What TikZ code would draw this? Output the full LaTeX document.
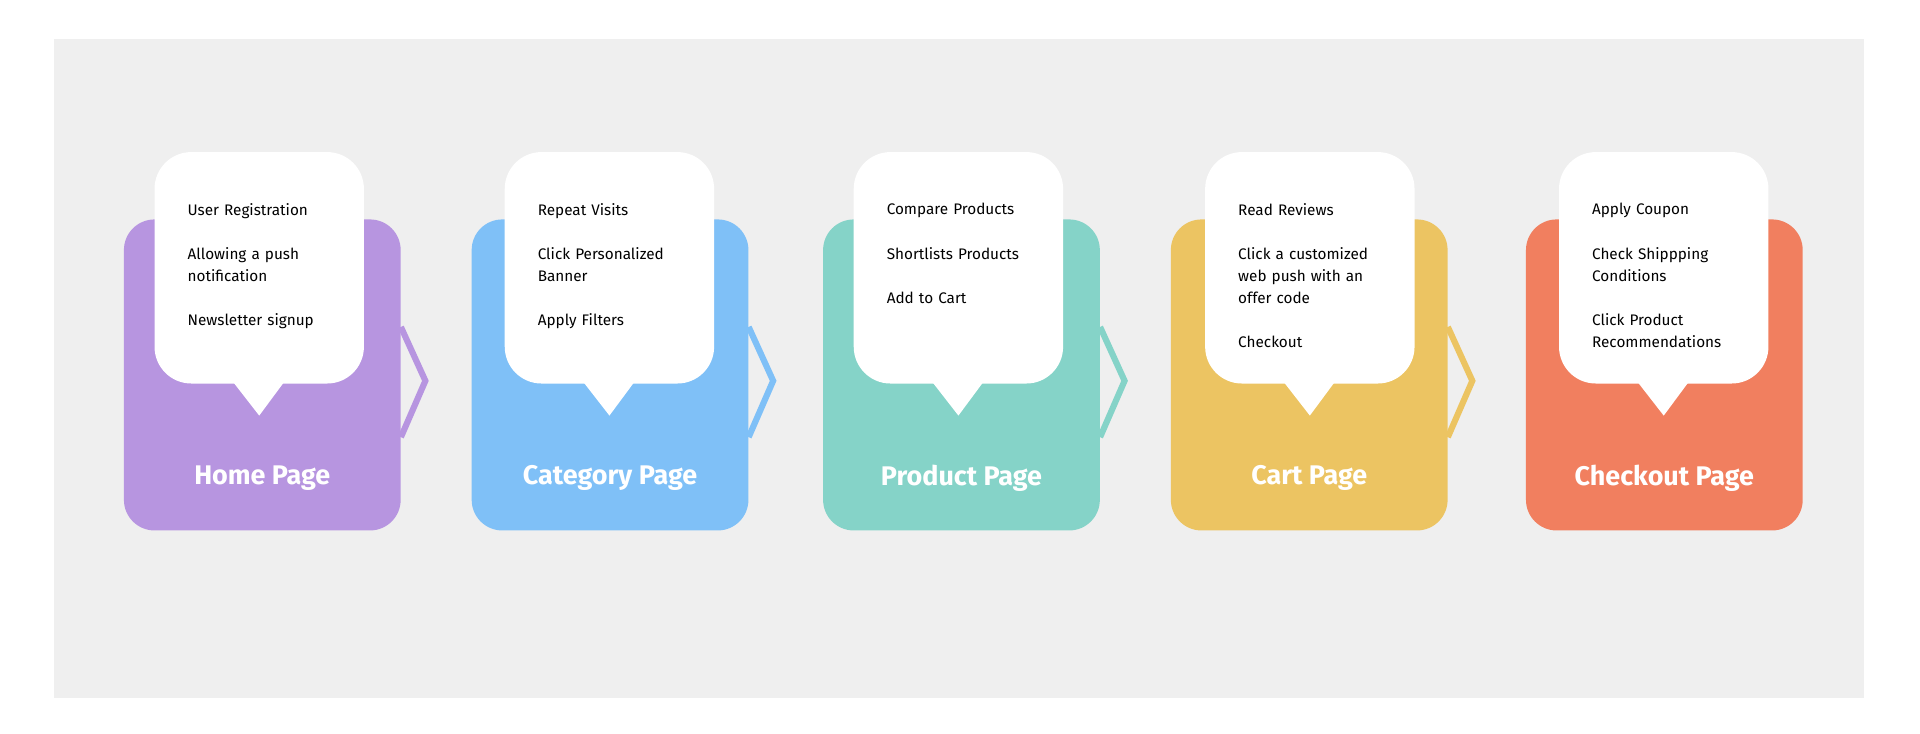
\documentclass[tikz,border=0pt]{standalone}
\usepackage{fontspec}
\setmainfont{Fira Sans}
\usetikzlibrary{positioning}
\definecolor{bggray}{HTML}{EFEFEF}
\definecolor{cpurple}{HTML}{B795E0}
\definecolor{cblue}{HTML}{7FC0F7}
\definecolor{cteal}{HTML}{85D3C8}
\definecolor{cyellow}{HTML}{ECC462}
\definecolor{corange}{HTML}{F17F5F}
\tikzset{
  cardbox/.style={rounded corners=25pt, minimum width=226pt, minimum height=254pt, inner sep=0pt},
  bubblebox/.style={fill=white, rounded corners=30pt, minimum width=171pt, minimum height=189pt, inner sep=0pt},
  itemtext/.style={font=\fontsize{12.5}{18}\selectfont, align=left, anchor=north west, inner sep=0pt, text width=150pt},
  titletext/.style={font=\fontsize{22}{26}\selectfont\bfseries, text=white},
}
\begin{document}
\begin{tikzpicture}[x=1pt,y=-1pt]
  \useasboundingbox (0,0) rectangle (1568,599);
  \fill[white] (0,0) rectangle (1568,599);
  \fill[bggray] (44,32) rectangle (1522,570);
  % stages: card left, bubble left, colour, title, items
  \foreach \i/\cx/\bx/\col/\name/\items in {
      1/101/126/cpurple/Home Page/{User Registration\\[18pt]Allowing a push\\notification\\[18pt]Newsletter signup},
      2/385/412/cblue/Category Page/{Repeat Visits\\[18pt]Click Personalized\\Banner\\[18pt]Apply Filters},
      3/672/697/cteal/Product Page/{Compare Products\\[18pt]Shortlists Products\\[18pt]Add to Cart},
      4/956/984/cyellow/Cart Page/{Read Reviews\\[18pt]Click a customized\\web push with an\\offer code\\[18pt]Checkout},
      5/1246/1273/corange/Checkout Page/{Apply Coupon\\[18pt]Check Shippping\\Conditions\\[18pt]Click Product\\Recommendations}} {
    \node[cardbox, fill=\col, anchor=north west] (card\i) at (\cx,179) {};
    \node[titletext] (title\i) at ([yshift=43pt]card\i.south) {\name};
    \ifnum\i<5
      \draw[\col, line width=5pt, line join=miter] ([yshift=-88pt]card\i.north east) -- ++(20,44) -- ++(-20,46);
    \fi
    \node[bubblebox, anchor=north west] (bubble\i) at (\bx,124) {};
    \fill[white] ([xshift=-21pt,yshift=1pt]bubble\i.south) -- ([xshift=20pt,yshift=1pt]bubble\i.south) -- ([yshift=-26pt]bubble\i.south) -- cycle;
    \node[itemtext] (items\i) at ([xshift=27pt,yshift=-42pt]bubble\i.north west) {\items};
  }
\end{tikzpicture}
\end{document}
